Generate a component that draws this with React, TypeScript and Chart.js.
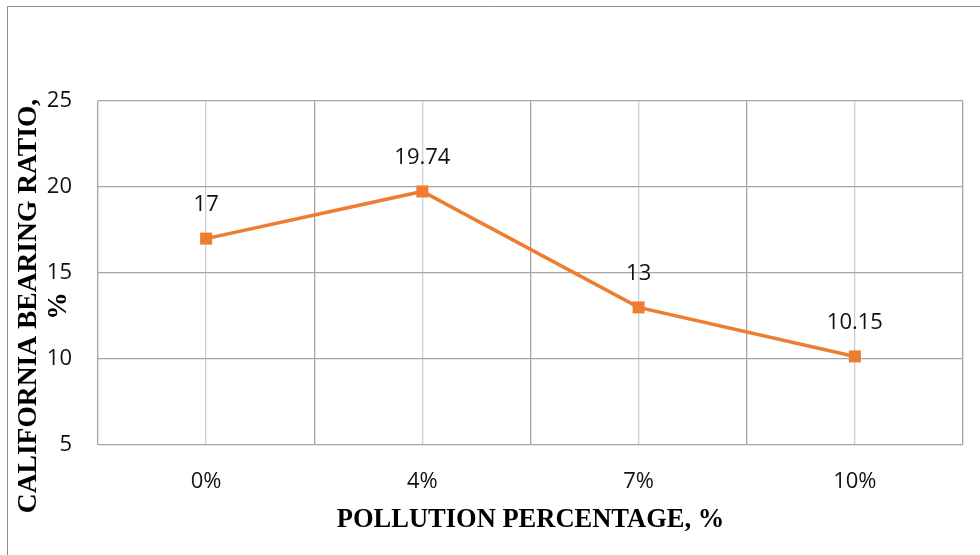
import React, { useEffect, useRef } from "react";
import { Chart, registerables } from "chart.js";

Chart.register(...registerables);

const categories = ["0%", "4%", "7%", "10%"];
const cbrValues = [17, 19.74, 13, 10.15];
const valueLabels = ["17", "19.74", "13", "10.15"];
const yTicks = [5, 10, 15, 20, 25];
const xTitle = "POLLUTION PERCENTAGE, %";
const yTitle = ["CALIFORNIA BEARING RATIO,", "%"];

const ORANGE = "#ED7D31";
const TICK_FONT = "'Open Sans', sans-serif";
const TITLE_FONT = "'Liberation Serif', 'Times New Roman', serif";

const overlayPlugin = {
  id: "overlay",
  beforeDraw(chart: any) {
    const ctx = chart.ctx;
    ctx.save();
    ctx.fillStyle = "#ffffff";
    ctx.fillRect(0, 0, chart.width, chart.height);
    ctx.strokeStyle = "#8c8c8c";
    ctx.lineWidth = 1;
    ctx.beginPath();
    ctx.moveTo(7.5, chart.height + 5);
    ctx.lineTo(7.5, 6.5);
    ctx.lineTo(chart.width + 5, 6.5);
    ctx.stroke();
    ctx.restore();
  },
  afterDraw(chart: any) {
    const ctx = chart.ctx;
    const area = chart.chartArea;
    ctx.save();
    const meta = chart.getDatasetMeta(0);
    ctx.fillStyle = "#111111";
    ctx.font = `22px ${TICK_FONT}`;
    ctx.textAlign = "center";
    ctx.textBaseline = "middle";
    meta.data.forEach((pt: any, i: number) => {
      ctx.fillText(valueLabels[i], pt.x, pt.y - 34);
    });
    ctx.font = `bold 26.5px ${TITLE_FONT}`;
    ctx.fillStyle = "#000000";
    ctx.fillText(xTitle, (area.left + area.right) / 2, area.bottom + 75);
    ctx.font = `bold 27.5px ${TITLE_FONT}`;
    ctx.translate(29, (area.top + area.bottom) / 2 + 33);
    ctx.rotate(-Math.PI / 2);
    yTitle.forEach((line, i) => {
      ctx.fillText(line, 0, i * 30);
    });
    ctx.restore();
  },
};

export default function App() {
  const ref = useRef<HTMLCanvasElement | null>(null);

  useEffect(() => {
    document.body.style.margin = "0";
    if (!ref.current) return;
    const chart = new Chart(ref.current, {
      type: "line",
      data: {
        datasets: [
          {
            data: cbrValues.map((v, i) => ({ x: i, y: v })),
            borderColor: ORANGE,
            backgroundColor: ORANGE,
            borderWidth: 3.5,
            pointStyle: "rect",
            pointRadius: 8.5,
            pointBorderWidth: 0,
            pointBackgroundColor: ORANGE,
            tension: 0,
          },
        ],
      },
      options: {
        animation: false,
        responsive: true,
        maintainAspectRatio: false,
        layout: { padding: { left: 0, top: 101, right: 17, bottom: 0 } },
        plugins: {
          legend: { display: false },
          tooltip: { enabled: false },
          title: { display: false },
        },
        scales: {
          x: {
            type: "linear",
            min: -0.5,
            max: categories.length - 0.5,
            afterFit: (s: any) => {
              s.height = 110;
              s.paddingLeft = 0;
              s.paddingRight = 0;
            },
            afterBuildTicks: (s: any) => {
              const t: any[] = [];
              for (let i = 0; i <= categories.length * 2; i++) t.push({ value: -0.5 + i * 0.5 });
              s.ticks = t;
            },
            grid: {
              drawTicks: false,
              color: (c: any) => {
                const v = c.tick ? c.tick.value : 0;
                return Number.isInteger(v) ? "#d0d0d0" : "#a6a6a6";
              },
              lineWidth: 1.3,
            },
            border: { display: false },
            ticks: {
              autoSkip: false,
              maxRotation: 0,
              padding: 24,
              color: "#111111",
              font: { family: TICK_FONT, size: 22 },
              callback: (v: any) => (Number.isInteger(v) ? categories[v] : ""),
            },
          },
          y: {
            min: yTicks[0],
            max: yTicks[yTicks.length - 1],
            afterFit: (s: any) => {
              s.width = 98;
            },
            afterBuildTicks: (s: any) => {
              s.ticks = yTicks.map((v) => ({ value: v }));
            },
            grid: { drawTicks: false, color: "#a6a6a6", lineWidth: 1.3 },
            border: { display: false },
            ticks: {
              padding: 26,
              color: "#111111",
              font: { family: TICK_FONT, size: 22 },
            },
          },
        },
      },
      plugins: [overlayPlugin],
    } as any);
    return () => chart.destroy();
  }, []);

  return (
    <div style={{ position: "relative", width: 980, height: 555 }}>
      <canvas ref={ref} />
    </div>
  );
}
